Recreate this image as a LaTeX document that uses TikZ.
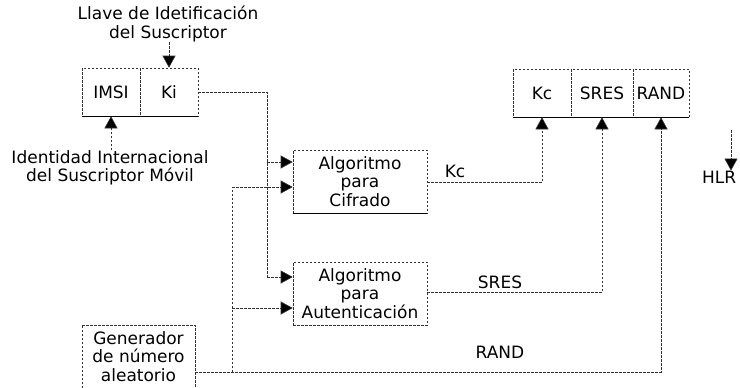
\documentclass[tikz,border=0pt]{standalone}
\usepackage{fontspec}
\setmainfont{DejaVu Sans}
\usetikzlibrary{arrows.meta,calc}
\begin{document}
\begin{tikzpicture}[x=1pt,y=-1pt,
  every node/.style={font=\fontsize{17}{18.5}\selectfont, inner sep=0pt},
  line/.style={draw=black!80, line width=0.6pt, dash pattern=on 2.5pt off 1.5pt},
  arrd/.style={draw=black!80, line width=0.6pt, dash pattern=on 2.5pt off 1.5pt, -{Triangle[length=12pt,width=13pt,fill=black]}},
  cell/.style={draw=black!80, line width=0.6pt, dash pattern=on 2.5pt off 1.5pt, minimum height=48pt, align=center},
  algbox/.style={draw=black!80, line width=0.6pt, dash pattern=on 2.5pt off 1.5pt, minimum width=134pt, minimum height=63pt, align=center},
  lbl/.style={align=center}]
\useasboundingbox (0,0) rectangle (740,388);

% top label and IMSI/Ki
\node[lbl] (llave) at (168,24) {Llave de Idetificación\\del Suscriptor};
\node[cell, minimum width=58pt] (imsi) at (111,92) {IMSI};
\node[cell, minimum width=58pt] (ki) at (169,92) {Ki};
\draw[black, line width=1pt] (imsi.south west) -- (ki.south east);
\node[lbl] (ident) at (110,168) {Identidad Internacional\\del Suscriptor Móvil};

% algorithms
\node[algbox] (cif) at (360,181.5) {Algoritmo\\para\\Cifrado};
\draw[black, line width=1pt] (cif.south west) -- (cif.south east);
\node[algbox] (aut) at (360,293.5) {Algoritmo\\para\\Autenticación};

% generator (open at bottom)
\node[lbl, minimum width=113pt, minimum height=63pt] (gen) at (138.5,356.5) {Generador\\de número\\aleatorio};
\draw[line] (gen.south west) -- (gen.north west) -- (gen.north east) -- (gen.south east);

% triplet
\node[cell, minimum width=58pt] (kc) at (542,93) {Kc};
\node[cell, minimum width=62pt] (sres) at (602,93) {SRES};
\node[cell, minimum width=56pt] (rand) at (661,93) {RAND};
\draw[black, line width=1pt] (kc.south west) -- (rand.south east);

% output labels
\node (lkc) at (455,171) {Kc};
\node (lsres) at (500,282) {SRES};
\node (lrand) at (500,352) {RAND};

% HLR
\node[anchor=west] (hlr) at (702,177) {HLR};
\coordinate (hlrtop) at (731,130);

% connectors
\draw[arrd] (llave.south -| ki) -- (ki.north);
\draw[arrd] (ident.north -| imsi) -- (imsi.south);

\coordinate (k1) at (267,162);
\coordinate (k2) at (267,277);
\draw[line] (ki.east) -| (k2);
\draw[arrd] (k1) -- (k1 -| cif.west);
\draw[arrd] (k2) -- (k2 -| aut.west);

\coordinate (r0) at (232,372);
\coordinate (r1) at (232,187);
\coordinate (r2) at (232,308);
\draw[line] (r0) -- (r1);
\draw[arrd] (r1) -- (r1 -| cif.west);
\draw[arrd] (r2) -- (r2 -| aut.west);
\draw[arrd] (gen.east |- r0) -| (rand.south);

\coordinate (c1) at (427,182);
\draw[arrd] (c1) -| (kc.south);
\coordinate (a1) at (427,292);
\draw[arrd] (a1) -| (sres.south);

\draw[arrd] (hlrtop) -- (hlrtop |- hlr.north);
\end{tikzpicture}
\end{document}
